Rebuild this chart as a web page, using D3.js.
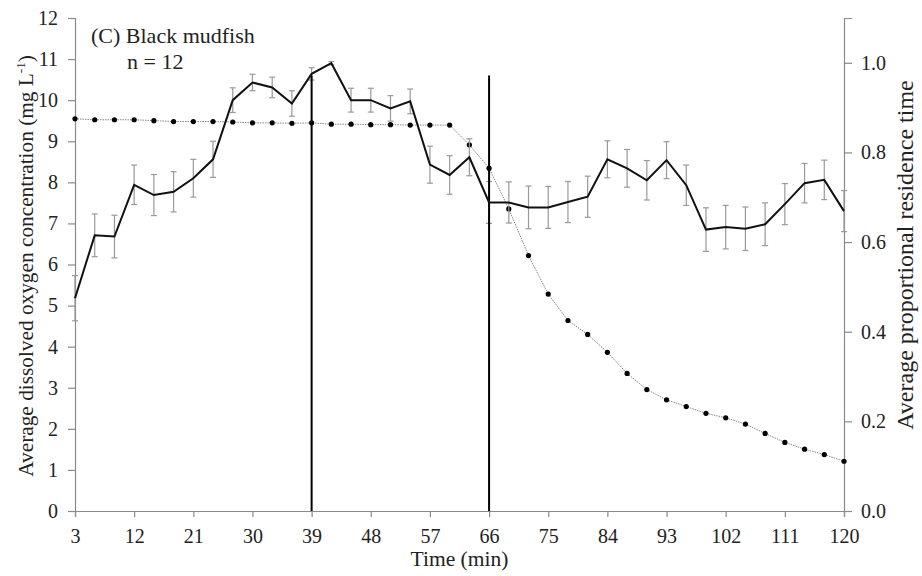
<!DOCTYPE html>
<html>
<head>
<meta charset="utf-8">
<script src="https://cdn.jsdelivr.net/npm/d3@7"></script>
</head>
<body style="margin:0; background:#fff">
<div id="chart"></div>
<script>
// sampling times (min)
var times = d3.range(3, 121, 3);

// average dissolved oxygen (mg/L) and standard error
var oxygen = [5.18, 6.71, 6.68, 7.94, 7.69, 7.77, 8.10, 8.56, 10.00, 10.43,
  10.31, 9.92, 10.64, 10.90, 10.00, 10.00, 9.80, 9.97, 8.43, 8.18,
  8.61, 7.51, 7.51, 7.39, 7.39, 7.52, 7.65, 8.56, 8.34, 8.05,
  8.54, 7.93, 6.85, 6.91, 6.87, 6.98, 7.47, 7.98, 8.06, 7.30];
var oxygenSE = [0.55, 0.52, 0.52, 0.48, 0.50, 0.49, 0.46, 0.44, 0.30, 0.20,
  0.25, 0.31, 0.15, 0.04, 0.29, 0.29, 0.31, 0.30, 0.45, 0.47,
  0.45, 0.51, 0.50, 0.52, 0.51, 0.50, 0.50, 0.45, 0.46, 0.48,
  0.45, 0.49, 0.53, 0.53, 0.53, 0.52, 0.50, 0.48, 0.48, 0.50];

// average proportional residence time
var residence = [0.875, 0.873, 0.873, 0.873, 0.871, 0.869, 0.869, 0.869, 0.868, 0.866,
  0.866, 0.865, 0.866, 0.863, 0.863, 0.862, 0.862, 0.861, 0.861, 0.861,
  0.817, 0.765, 0.674, 0.570, 0.484, 0.425, 0.394, 0.354, 0.307, 0.271,
  0.248, 0.233, 0.218, 0.208, 0.194, 0.173, 0.153, 0.138, 0.126, 0.111];

// vertical marker lines (min) and their height (mg/L)
var markers = [39, 66];
var markerTop = 10.6;

var xTicks = d3.range(3, 121, 9);
var yTicks = d3.range(0, 13, 1);
var y2Ticks = [0, 0.2, 0.4, 0.6, 0.8, 1.0];

var width = 922;
var height = 576;
var margin = { top: 18, right: 78, bottom: 65, left: 75 };
var serif = 'Liberation Serif';

var svg = d3.select('#chart')
  .append('svg')
  .attr('width', width)
  .attr('height', height)
  .attr('font-family', serif)

var x = d3.scaleLinear()
  .domain([3, 120])
  .range([margin.left, width - margin.right])

var y = d3.scaleLinear()
  .domain([0, 12])
  .range([height - margin.bottom, margin.top])

var y2 = d3.scaleLinear()
  .domain([0, 1.1])
  .range([height - margin.bottom, margin.top])

var axisColor = '#8a8a8a';

// axes
var xAxis = svg.append('g')
  .attr('transform', 'translate(0,' + (height - margin.bottom) + ')')
  .call(d3.axisBottom(x).tickValues(xTicks).tickSize(6).tickPadding(12).tickFormat(d3.format('d')))

var yAxis = svg.append('g')
  .attr('transform', 'translate(' + margin.left + ',0)')
  .call(d3.axisLeft(y).tickValues(yTicks).tickSize(7).tickPadding(10).tickFormat(d3.format('d')))

var y2Axis = svg.append('g')
  .attr('transform', 'translate(' + (width - margin.right) + ',0)')
  .call(d3.axisRight(y2).tickValues(y2Ticks).tickSize(8).tickPadding(9).tickFormat(d3.format('.1f')))

;[xAxis, yAxis, y2Axis].forEach(function (g) {
  g.attr('font-family', serif).attr('font-size', 20)
  g.select('.domain').attr('stroke', axisColor).attr('stroke-width', 1.2)
  g.selectAll('.tick line').attr('stroke', axisColor).attr('stroke-width', 1.2)
  g.selectAll('.tick text').attr('fill', '#222')
})

// residence time: dotted line with dots
var resLine = d3.line()
  .x((d, i) => x(times[i]))
  .y(d => y2(d))

svg.append('path')
  .datum(residence)
  .attr('d', resLine)
  .attr('fill', 'none')
  .attr('stroke', '#888')
  .attr('stroke-width', 1)
  .attr('stroke-dasharray', '1.5,1')

svg.append('g')
  .selectAll('circle')
  .data(residence)
  .enter()
  .append('circle')
  .attr('cx', (d, i) => x(times[i]))
  .attr('cy', d => y2(d))
  .attr('r', 2.6)
  .attr('fill', '#000')

// error bars
var errG = svg.append('g')
  .attr('stroke', '#999')
  .attr('stroke-width', 1.2)

oxygen.forEach(function (v, i) {
  var cx = x(times[i]);
  var top = y(v + oxygenSE[i]);
  var bot = y(v - oxygenSE[i]);
  errG.append('line').attr('x1', cx).attr('x2', cx).attr('y1', top).attr('y2', bot)
  errG.append('line').attr('x1', cx - 3).attr('x2', cx + 3).attr('y1', top).attr('y2', top)
  errG.append('line').attr('x1', cx - 3).attr('x2', cx + 3).attr('y1', bot).attr('y2', bot)
})

// vertical marker lines
svg.append('g')
  .selectAll('line')
  .data(markers)
  .enter()
  .append('line')
  .attr('x1', d => x(d))
  .attr('x2', d => x(d))
  .attr('y1', y(0))
  .attr('y2', y(markerTop))
  .attr('stroke', '#000')
  .attr('stroke-width', 2)

// oxygen line
var oxLine = d3.line()
  .x((d, i) => x(times[i]))
  .y(d => y(d))

svg.append('path')
  .datum(oxygen)
  .attr('d', oxLine)
  .attr('fill', 'none')
  .attr('stroke', '#111')
  .attr('stroke-width', 2)

// panel label
svg.append('text')
  .attr('x', 91)
  .attr('y', 43)
  .attr('font-size', 22)
  .attr('fill', '#222')
  .text('(C) Black mudfish')

svg.append('text')
  .attr('x', 127)
  .attr('y', 69)
  .attr('font-size', 22)
  .attr('fill', '#222')
  .text('n = 12')

// axis titles
svg.append('text')
  .attr('x', (margin.left + width - margin.right) / 2)
  .attr('y', 566)
  .attr('text-anchor', 'middle')
  .attr('font-size', 21.5)
  .attr('fill', '#222')
  .text('Time (min)')

var yTitle = svg.append('text')
  .attr('transform', 'translate(33,266) rotate(-90)')
  .attr('text-anchor', 'middle')
  .attr('font-size', 21.3)
  .attr('fill', '#222')

yTitle.append('tspan').text('Average dissolved oxygen concentration (mg L')
yTitle.append('tspan').attr('dy', -8).attr('font-size', 13).text('-1')
yTitle.append('tspan').attr('dy', 8).text(')')

svg.append('text')
  .attr('transform', 'translate(913,255) rotate(-90)')
  .attr('text-anchor', 'middle')
  .attr('font-size', 24)
  .attr('fill', '#222')
  .text('Average proportional residence time')
</script>
</body>
</html>
